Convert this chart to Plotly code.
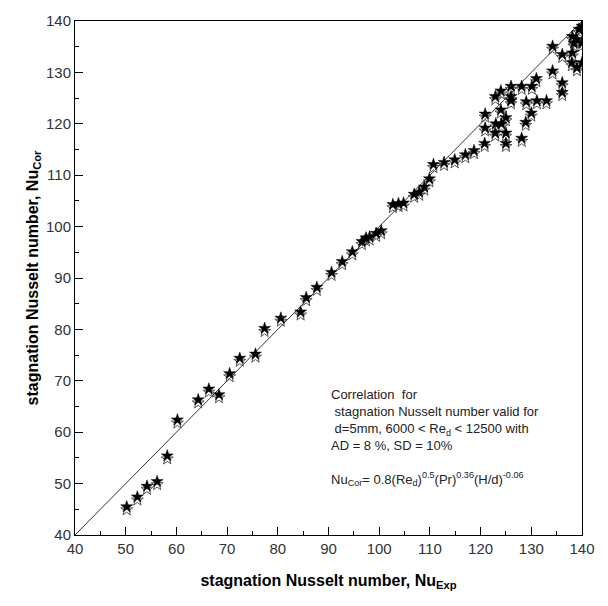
import plotly.graph_objects as go

# Experimental vs correlated stagnation Nusselt number
nu_exp = [50.2, 52.3, 54.2, 56.2, 58.2, 60.2, 64.3, 66.4, 68.4, 70.5, 72.5, 75.6,
          77.4, 80.6, 84.5, 85.6, 87.7, 90.6, 92.7, 94.7, 96.6, 97.4, 98.1, 99.4,
          100.4, 102.7, 103.8, 104.8, 106.9, 107.9, 108.9, 109.9, 110.7, 112.8,
          114.9, 117.0, 118.7, 120.8, 125.0, 128.1, 120.9, 122.9, 125.0, 123.0,
          124.1, 125.0, 120.9, 124.0, 128.9, 130.0, 129.0, 126.0, 131.1, 133.0,
          122.9, 126.0, 124.0, 126.0, 128.1, 130.1, 131.0, 136.1, 136.1, 134.2,
          134.2, 136.1, 138.1, 138.0, 140.0, 139.0, 138.1, 139.4, 140.0, 139.0,
          140.0, 138.4]
nu_cor_a = [45.5, 47.4, 49.5, 50.4, 55.4, 62.4, 66.3, 68.4, 67.3, 71.4, 74.4, 75.2,
            80.2, 82.2, 83.4, 86.2, 88.2, 91.1, 93.2, 95.1, 97.1, 97.8, 98.0, 98.7,
            99.2, 104.3, 104.5, 104.6, 106.3, 106.7, 107.7, 109.3, 112.1, 112.5,
            113.0, 114.0, 114.8, 116.2, 116.2, 117.2, 119.2, 118.2, 118.2, 120.0,
            120.0, 121.2, 121.9, 122.7, 120.3, 122.1, 124.3, 124.5, 124.5, 124.5,
            125.3, 125.3, 126.4, 127.3, 127.3, 127.3, 128.8, 128.0, 126.1, 130.3,
            135.1, 133.5, 133.8, 131.9, 131.9, 130.9, 137.0, 138.4, 139.0, 136.4,
            135.7, 135.7]
nu_cor_b = [44.9, 46.8, 48.9, 49.8, 54.8, 61.8, 65.7, 67.8, 66.7, 70.8, 73.8, 74.6,
            79.6, 81.6, 82.8, 85.6, 87.6, 90.5, 92.6, 94.5, 96.5, 97.2, 97.4, 98.1,
            98.6, 103.7, 103.9, 104.0, 105.7, 106.1, 107.1, 108.7, 111.5, 111.9,
            112.4, 113.4, 114.2, 115.6, 115.6, 116.6, 118.6, 117.6, 117.6, 119.4,
            119.4, 120.6, 121.3, 122.1, 119.7, 121.5, 123.7, 123.9, 123.9, 123.9,
            124.7, 124.7, 125.8, 126.7, 126.7, 126.7, 128.2, 127.4, 125.5, 129.7,
            134.5, 132.9, 133.2, 131.3, 131.3, 130.3, 136.4, 137.8, 138.4, 135.8,
            135.1, 135.1]
line_x = [40, 140]
line_y = [40, 140]

FONT = "Liberation Sans, Arial, sans-serif"

fig = go.Figure()
fig.add_trace(go.Scatter(x=line_x, y=line_y, mode="lines",
                         line=dict(color="#333333", width=1), showlegend=False,
                         hoverinfo="skip"))
fig.add_trace(go.Scatter(x=nu_exp, y=nu_cor_b, mode="markers", showlegend=False,
                         marker=dict(symbol="star-open", size=9, color="#555555",
                                     line=dict(width=1, color="#555555"))))
fig.add_trace(go.Scatter(x=nu_exp, y=nu_cor_a, mode="markers", showlegend=False,
                         marker=dict(symbol="star", size=9, color="black",
                                     line=dict(width=0.5, color="black"))))

axis_common = dict(range=[40, 140], dtick=10, tick0=40, showgrid=False, zeroline=False,
                   showline=True, linecolor="black", linewidth=1, mirror=True,
                   ticks="inside", ticklen=8, tickcolor="black", tickwidth=1,
                   tickfont=dict(family=FONT, size=15, color="#333333"),
                   minor=dict(ticks="inside", ticklen=4, dtick=5, tickcolor="black",
                              showgrid=False))

fig.update_xaxes(**axis_common,
                 title=dict(text="<b>stagnation Nusselt number, Nu<sub>Exp</sub></b>",
                            font=dict(family=FONT, size=16, color="black"), standoff=18))
fig.update_yaxes(**axis_common,
                 title=dict(text="<b>stagnation Nusselt number, Nu<sub>Cor</sub></b>",
                            font=dict(family=FONT, size=16, color="black"), standoff=3))

ann_lines = [
    "Correlation  for",
    " stagnation Nusselt number valid for",
    " d=5mm, 6000 < Re<sub>d</sub> < 12500 with",
    "AD = 8 %, SD = 10%",
    "",
    "Nu<sub>Cor</sub>= 0.8(Re<sub>d</sub>)<sup>0.5</sup>(Pr)<sup>0.36</sup>(H/d)<sup>-0.06</sup>",
]
fig.add_annotation(x=0.5, y=0.292, xref="paper", yref="paper", xanchor="left",
                   yanchor="top", align="left", showarrow=False,
                   text="<br>".join(ann_lines),
                   font=dict(family=FONT, size=13, color="#222222"))

fig.update_layout(width=608, height=606, plot_bgcolor="white", paper_bgcolor="white",
                  margin=dict(l=75, r=26, t=18, b=71))

fig.write_html("out.html")
